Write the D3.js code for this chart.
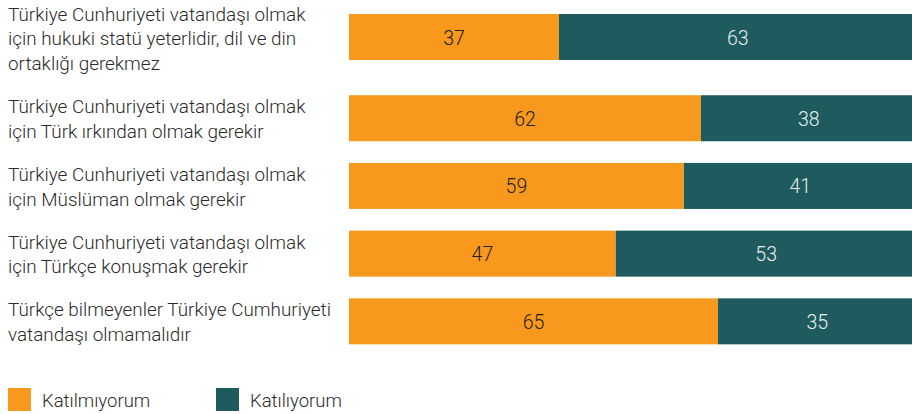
<!DOCTYPE html>
<html>
<head>
<meta charset="utf-8">
<script src="https://cdn.jsdelivr.net/npm/d3@7"></script>
<style>
  html, body { margin: 0; padding: 0; background: #fff; }
  svg { display: block; font-family: Roboto, "Noto Sans", sans-serif; }
</style>
</head>
<body>
<svg id="chart" width="912" height="414"></svg>
<script>
// Statements (one per row, each line of the label as drawn)
const statements = [
  ["Türkiye Cunhuriyeti vatandaşı olmak", "için hukuki statü yeterlidir, dil ve din", "ortaklığı gerekmez"],
  ["Türkiye Cunhuriyeti vatandaşı olmak", "için Türk ırkından olmak gerekir"],
  ["Türkiye Cunhuriyeti vatandaşı olmak", "için Müslüman olmak gerekir"],
  ["Türkiye Cunhuriyeti vatandaşı olmak", "için Türkçe konuşmak gerekir"],
  ["Türkçe bilmeyenler Türkiye Cumhuriyeti", "vatandaşı olmamalıdır"]
];
// Share of respondents (%)
const disagree = [37, 62, 59, 47, 65];   // Katılmıyorum
const agree    = [63, 38, 41, 53, 35];   // Katılıyorum
const seriesNames = ["Katılmıyorum", "Katılıyorum"];

const colors = { "Katılmıyorum": "#f8991e", "Katılıyorum": "#1f5b5e" };
const textColors = { "Katılmıyorum": "#222222", "Katılıyorum": "#e6eeee" };

const svg = d3.select("#chart");

// Rows with longer labels take a bit more vertical room
const rowUnits = statements.map(l => l.length > 2 ? 1.2 : 1);
const rowStart = [];
rowUnits.reduce((acc, u, i) => { rowStart[i] = acc; return acc + u; }, 0);
const y = d3.scaleLinear().domain([0, 1]).range([14, 14 + 67.7]);
const barH = 46;

const x = d3.scaleLinear().domain([0, 100]).range([349, 916.6]);

const rows = statements.map((lines, i) => ({
  lines, i,
  segs: [
    { key: seriesNames[0], start: 0, value: disagree[i] },
    { key: seriesNames[1], start: disagree[i], value: agree[i] }
  ]
}));

const row = svg.selectAll("g.row").data(rows).join("g")
  .attr("class", "row")
  .attr("transform", d => `translate(0,${y(rowStart[d.i])})`);

row.selectAll("rect").data(d => d.segs).join("rect")
  .attr("x", s => x(s.start))
  .attr("y", 0)
  .attr("width", s => x(s.start + s.value) - x(s.start))
  .attr("height", barH)
  .attr("fill", s => colors[s.key]);

row.selectAll("text.val").data(d => d.segs).join("text")
  .attr("class", "val")
  .attr("x", s => (x(s.start) + x(s.start + s.value)) / 2)
  .attr("y", barH / 2 + 7.5)
  .attr("text-anchor", "middle")
  .attr("font-size", 19.5)
  .attr("font-weight", 300)
  .attr("fill", s => textColors[s.key])
  .text(s => s.value);

// Category labels, vertically centred on the bar
const lh = 24.7;
row.append("g")
  .attr("transform", d => `translate(8,${barH / 2 + 6.5 - (d.lines.length - 1) * 11.5})`)
  .selectAll("text").data(d => d.lines).join("text")
  .attr("y", (l, j) => j * lh)
  .attr("font-size", 18.9)
  .attr("font-weight", 300)
  .attr("fill", "#2a2a2a")
  .text(l => l);

// Legend
const legendX = d3.scalePoint().domain(seriesNames).range([8, 216]);
const leg = svg.append("g").selectAll("g").data(seriesNames).join("g")
  .attr("transform", k => `translate(${legendX(k)},388)`);
leg.append("rect").attr("width", 23).attr("height", 23).attr("fill", k => colors[k]);
leg.append("text")
  .attr("x", 34)
  .attr("y", 18.5)
  .attr("font-size", 18.5)
  .attr("font-weight", 300)
  .attr("fill", "#2a2a2a")
  .text(k => k);
</script>
</body>
</html>
